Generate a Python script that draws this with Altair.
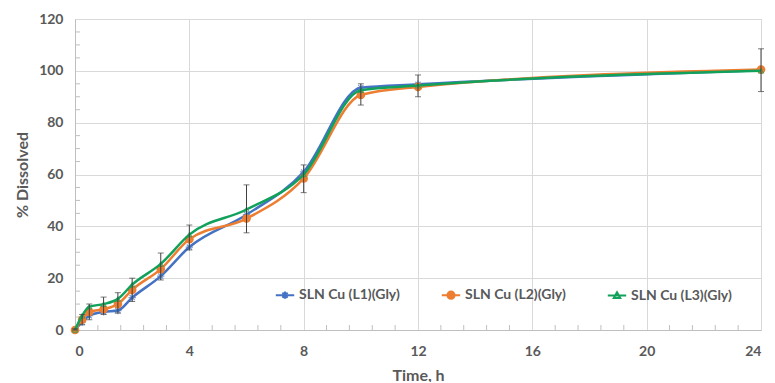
import altair as alt
import pandas as pd

times = [0, 0.25, 0.5, 1, 1.5, 2, 3, 4, 6, 8, 10, 12, 24]
l1 = [0, 3, 5.5, 7, 7.5, 12.5, 20.8, 32, 44.5, 61, 93.5, 94.8, 100.2]
l2 = [0, 4, 7, 8, 10, 15.5, 23.5, 35, 43, 58.5, 90.7, 93.8, 100.5]
l3 = [0, 5.5, 9, 10, 12, 17.5, 25.5, 36.8, 46.5, 60, 92.5, 94.3, 100]
err_low = [0, 2, 4, 6, 6.5, 11, 19.3, 30.9, 37.5, 53, 86.8, 90, 92]
err_high = [0.5, 6, 10, 12.7, 14.4, 20, 29.7, 40.5, 56, 63.7, 95, 98.4, 108.5]
series = ["SLN Cu (L1)(Gly)", "SLN Cu (L2)(Gly)", "SLN Cu (L3)(Gly)"]
colors = ["#4472C4", "#ED7D31", "#12A15B"]
x_major = [0, 4, 8, 12, 16, 20, 24]
y_major = [0, 20, 40, 60, 80, 100, 120]
x_minor = [v * 0.8 for v in range(1, 30) if v % 5 != 0]
y_minor = [v * 5 for v in range(1, 24) if v % 4 != 0]

rows = []
for name, vals in zip(series, [l1, l2, l3]):
    for t, v in zip(times, vals):
        rows.append({"series": name, "time": t, "value": v})
df = pd.DataFrame(rows)
df_err = pd.DataFrame({"time": times, "lo": err_low, "hi": err_high})
df_xm = pd.DataFrame({"xm": x_minor})
df_ym = pd.DataFrame({"ym": y_minor})

FONT = "Lato"
GRAY = "#595959"
W, H = 686, 311

xscale = alt.Scale(domain=[0, 24], nice=False)
yscale = alt.Scale(domain=[0, 120], nice=False)

xaxis = alt.Axis(values=x_major, title="Time, h", grid=True, ticks=False,
                 labelPadding=14, titlePadding=9, labelFont=FONT, titleFont=FONT,
                 labelFontSize=14, titleFontSize=16, labelFontWeight="bold",
                 titleFontWeight="bold", labelColor=GRAY, titleColor=GRAY,
                 gridColor="#d9d9d9", domainColor="#bfbfbf", format="d")
yaxis = alt.Axis(values=y_major, title="% Dissolved", grid=True, ticks=False,
                 labelPadding=12, titlePadding=8, labelFont=FONT, titleFont=FONT,
                 labelFontSize=14, titleFontSize=16, labelFontWeight="bold",
                 titleFontWeight="bold", labelColor=GRAY, titleColor=GRAY,
                 gridColor="#d9d9d9", domainColor="#bfbfbf", format="d")

base = alt.Chart(df)

layers = []
layers.append(
    base.mark_line(opacity=0).encode(
        x=alt.X("time:Q", scale=xscale, axis=xaxis),
        y=alt.Y("value:Q", scale=yscale, axis=yaxis),
        detail="series:N",
    )
)
layers.append(
    alt.Chart(df_xm).mark_rule(color="#bfbfbf", strokeWidth=1).encode(
        x=alt.X("xm:Q", scale=xscale), y=alt.value(H), y2=alt.value(H - 5)
    )
)
layers.append(
    alt.Chart(df_ym).mark_rule(color="#bfbfbf", strokeWidth=1).encode(
        y=alt.Y("ym:Q", scale=yscale), x=alt.value(0), x2=alt.value(5)
    )
)

point_specs = [
    dict(shape="M-1,0H1M0,-1V1M-0.7,-0.7L0.7,0.7M-0.7,0.7L0.7,-0.7", size=55,
         filled=False, strokeWidth=1.2),
    dict(shape="circle", size=75, filled=True, opacity=1),
    dict(shape="triangle-up", size=28, filled=False, strokeWidth=1),
]
for name, col, ps in zip(series, colors, point_specs):
    sub = base.transform_filter(alt.datum.series == name)
    layers.append(
        sub.mark_line(color=col, strokeWidth=2.5, interpolate="monotone").encode(
            x=alt.X("time:Q", scale=xscale), y=alt.Y("value:Q", scale=yscale)
        )
    )
    layers.append(
        sub.mark_point(color=col, **ps).encode(
            x=alt.X("time:Q", scale=xscale), y=alt.Y("value:Q", scale=yscale)
        )
    )

layers.append(
    alt.Chart(df_err).mark_rule(color="#404040", strokeWidth=1).encode(
        x=alt.X("time:Q", scale=xscale), y=alt.Y("lo:Q", scale=yscale), y2="hi:Q"
    )
)
for fld in ["lo", "hi"]:
    layers.append(
        alt.Chart(df_err).mark_tick(color="#404040", orient="horizontal",
                                    size=6, thickness=1).encode(
            x=alt.X("time:Q", scale=xscale), y=alt.Y(f"{fld}:Q", scale=yscale)
        )
    )

legend_paths = [
    "M-2.3,0H2.3M-0.9,0H0.9M0,-0.9V0.9M-0.65,-0.65L0.65,0.65M-0.65,0.65L0.65,-0.65",
    "M-2.3,0H2.3M0.9,0A0.9,0.9 0 1,1 -0.9,0A0.9,0.9 0 1,1 0.9,0"
    "M0.55,0A0.55,0.55 0 1,1 -0.55,0A0.55,0.55 0 1,1 0.55,0"
    "M0.2,0A0.2,0.2 0 1,1 -0.2,0A0.2,0.2 0 1,1 0.2,0",
    "M-2.3,0H2.3M0,-0.8L0.8,0.6H-0.8Z",
]
legend = alt.Legend(orient="none", direction="horizontal", legendX=203, legendY=269,
                    title=None, symbolOpacity=1, symbolSize=64, symbolStrokeWidth=2,
                    labelFont=FONT, labelFontSize=14, labelFontWeight="bold",
                    labelColor=GRAY, labelOffset=7, columnPadding=37)
layers.append(
    base.mark_point(filled=False, opacity=0).encode(
        x=alt.X("time:Q", scale=xscale), y=alt.Y("value:Q", scale=yscale),
        color=alt.Color("series:N", scale=alt.Scale(domain=series, range=colors),
                        legend=legend),
        shape=alt.Shape("series:N", scale=alt.Scale(domain=series, range=legend_paths),
                        legend=legend),
    )
)

chart = alt.layer(*layers).properties(
    width=W, height=H,
    autosize=alt.AutoSizeParams(type="none"),
    padding={"left": 67, "top": 11, "right": 6, "bottom": 52},
).configure_view(stroke=None).configure(background="white")

chart.save("out.html", embed_options={"renderer": "svg", "actions": False})
